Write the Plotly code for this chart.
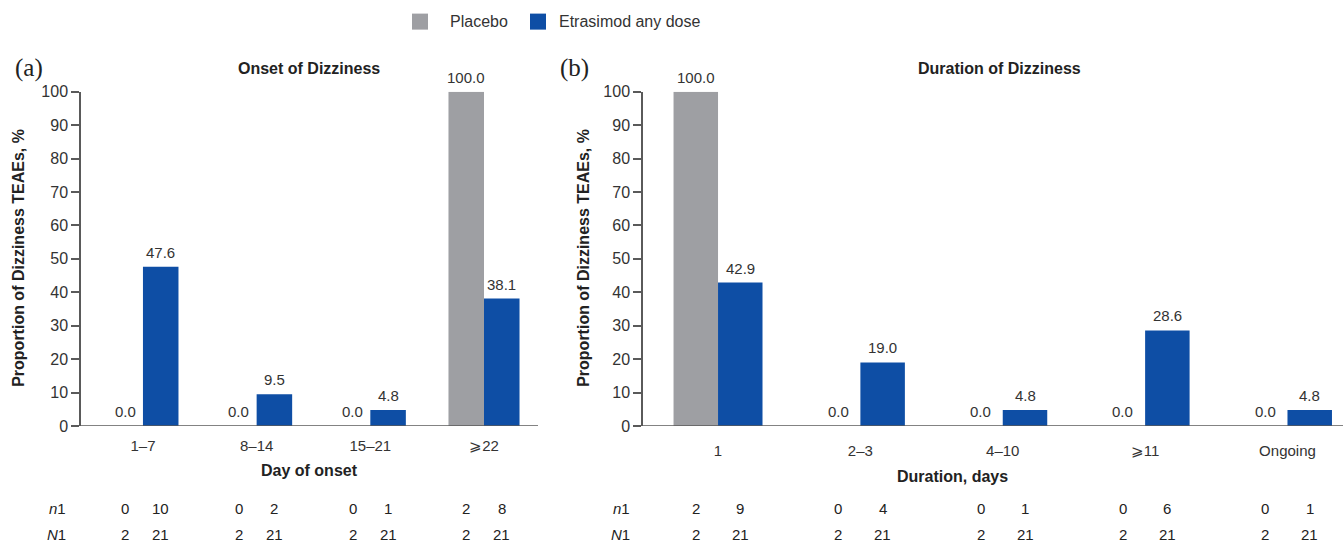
import plotly.graph_objects as go

# ---- data ----
onset_categories = ["1–7", "8–14", "15–21", "⩾22"]
onset_placebo = [0.0, 0.0, 0.0, 100.0]
onset_etrasimod = [47.6, 9.5, 4.8, 38.1]
onset_n1_placebo = [0, 0, 0, 2]
onset_n1_etrasimod = [10, 2, 1, 8]
onset_N1_placebo = [2, 2, 2, 2]
onset_N1_etrasimod = [21, 21, 21, 21]

duration_categories = ["1", "2–3", "4–10", "⩾11", "Ongoing"]
duration_placebo = [100.0, 0.0, 0.0, 0.0, 0.0]
duration_etrasimod = [42.9, 19.0, 4.8, 28.6, 4.8]
duration_n1_placebo = [2, 0, 0, 0, 0]
duration_n1_etrasimod = [9, 4, 1, 6, 1]
duration_N1_placebo = [2, 2, 2, 2, 2]
duration_N1_etrasimod = [21, 21, 21, 21, 21]

series_names = ["Placebo", "Etrasimod any dose"]
y_ticks = [0, 10, 20, 30, 40, 50, 60, 70, 80, 90, 100]

# ---- style ----
W, H = 1343, 547
GREY = "#9e9fa3"
BLUE = "#0e4ea5"
AXIS = "#5a5a5a"
TEXT = "#333333"
FONT = "Liberation Sans, Arial, sans-serif"
BARGAP = 0.375
HALF = (1 - BARGAP) / 4  # offset of each bar centre from the category centre


def px_x(p):
    return p / W


def px_y(p):
    # vertical pixel position (from top) -> paper fraction
    r = (p - 8.4) / 0.968
    return 1 - min(r, H - 4) / H


fig = go.Figure()
ann = []

panels = [
    dict(cats=onset_categories, pl=onset_placebo, et=onset_etrasimod, xa="x", ya="y"),
    dict(cats=duration_categories, pl=duration_placebo, et=duration_etrasimod, xa="x2", ya="y2"),
]

for p in panels:
    for name, vals, col, off in [(series_names[0], p["pl"], GREY, -HALF),
                                 (series_names[1], p["et"], BLUE, HALF)]:
        fig.add_trace(go.Bar(
            x=p["cats"], y=vals, name=name, marker=dict(color=col, line=dict(width=0)),
            xaxis=p["xa"], yaxis=p["ya"], showlegend=False, legendgroup=name,
            cliponaxis=False, hoverinfo="x+y+name",
        ))
        # value label above each bar
        for i, v in enumerate(vals):
            ann.append(dict(text=f"{v:.1f}", x=i + off, y=v, xref=p["xa"], yref=p["ya"],
                            showarrow=False, xanchor="center", yanchor="bottom", yshift=4,
                            font=dict(family=FONT, size=15, color=TEXT)))

y_dom = [px_y(426), px_y(92)]
yaxis_common = dict(
    range=[0, 100], domain=y_dom, tickvals=y_ticks, showgrid=False, zeroline=False,
    showline=True, linecolor=AXIS, linewidth=1.5, ticks="outside", ticklen=8,
    tickcolor=AXIS, tickwidth=1.5, tickfont=dict(family=FONT, size=16, color=TEXT),
)
xaxis_common = dict(
    type="category", showgrid=False, zeroline=False, showline=False,
    ticks="outside", tickcolor="rgba(0,0,0,0)", tickfont=dict(family=FONT, size=15, color=TEXT),
)

fig.update_layout(
    width=W, height=H, margin=dict(l=0, r=0, t=0, b=0),
    paper_bgcolor="white", plot_bgcolor="white",
    barmode="group", bargap=BARGAP, bargroupgap=0,
    font=dict(family=FONT, color=TEXT), showlegend=False,
    xaxis=dict(xaxis_common, domain=[px_x(81), px_x(538)], range=[-0.545, 3.475], anchor="y", ticklen=6),
    yaxis=dict(yaxis_common, anchor="x"),
    xaxis2=dict(xaxis_common, domain=[px_x(643), 1.0], range=[-0.527, 4.39], anchor="y2", ticklen=11),
    yaxis2=dict(yaxis_common, anchor="x2"),
)

# x-axis baselines, running slightly left of the y axis like the y ticks
for x0, x1, ya in [(73, 538, "y"), (635, W, "y2")]:
    fig.add_shape(type="line", xref="paper", yref=ya, x0=px_x(x0), x1=px_x(x1), y0=0, y1=0,
                  line=dict(color=AXIS, width=1.5), layer="above")


def note(text, x, y, size=15, bold=False, xanchor="center", angle=0, family=FONT, color="#222222"):
    if bold:
        text = f"<b>{text}</b>"
    ann.append(dict(text=text, x=x, y=y, xref="paper", yref="paper", showarrow=False,
                    xanchor=xanchor, yanchor="middle", textangle=angle,
                    font=dict(family=family, size=size, color=color)))


# legend: coloured squares with series names
for (sx, tx), name, col in zip([(412, 448), (530, 557)], series_names, [GREY, BLUE]):
    fig.add_shape(type="rect", xref="paper", yref="paper",
                  x0=px_x(sx), x1=px_x(sx + 16), y0=px_y(30), y1=px_y(14),
                  fillcolor=col, line=dict(width=0))
    note(name, px_x(tx), px_y(22), size=16, xanchor="left", color=TEXT)

# panel letters, titles and axis titles
note("(a)", px_x(29), px_y(68), size=25, family="Liberation Serif, Times New Roman, serif")
note("(b)", px_x(574), px_y(68), size=25, family="Liberation Serif, Times New Roman, serif")
note("Onset of Dizziness", px_x(309), px_y(69), size=16, bold=True)
note("Duration of Dizziness", px_x(999), px_y(69), size=16, bold=True)
note("Day of onset", px_x(309), px_y(470), size=16, bold=True)
note("Duration, days", px_x(952), px_y(476), size=16, bold=True)
note("Proportion of Dizziness TEAEs, %", px_x(19), px_y(258), size=16, bold=True, angle=-90)
note("Proportion of Dizziness TEAEs, %", px_x(584), px_y(258), size=16, bold=True, angle=-90)

# n1 / N1 table under each panel
row_y = {"n": px_y(508), "N": px_y(540)}
tables = [
    ("x", px_x(68), onset_n1_placebo, onset_n1_etrasimod, onset_N1_placebo, onset_N1_etrasimod),
    ("x2", px_x(632), duration_n1_placebo, duration_n1_etrasimod, duration_N1_placebo, duration_N1_etrasimod),
]
for xa, lab_x, n_pl, n_et, N_pl, N_et in tables:
    note("<i>n</i>1", lab_x, row_y["n"], xanchor="right")
    note("<i>N</i>1", lab_x, row_y["N"], xanchor="right")
    for i in range(len(n_pl)):
        for key, vp, ve in [("n", n_pl[i], n_et[i]), ("N", N_pl[i], N_et[i])]:
            for val, off in [(vp, -HALF), (ve, HALF)]:
                ann.append(dict(text=str(val), x=i + off, y=row_y[key], xref=xa, yref="paper",
                                showarrow=False, xanchor="center", yanchor="middle",
                                font=dict(family=FONT, size=15, color="#222222")))

fig.update_layout(annotations=ann)
fig.write_html("out.html")
